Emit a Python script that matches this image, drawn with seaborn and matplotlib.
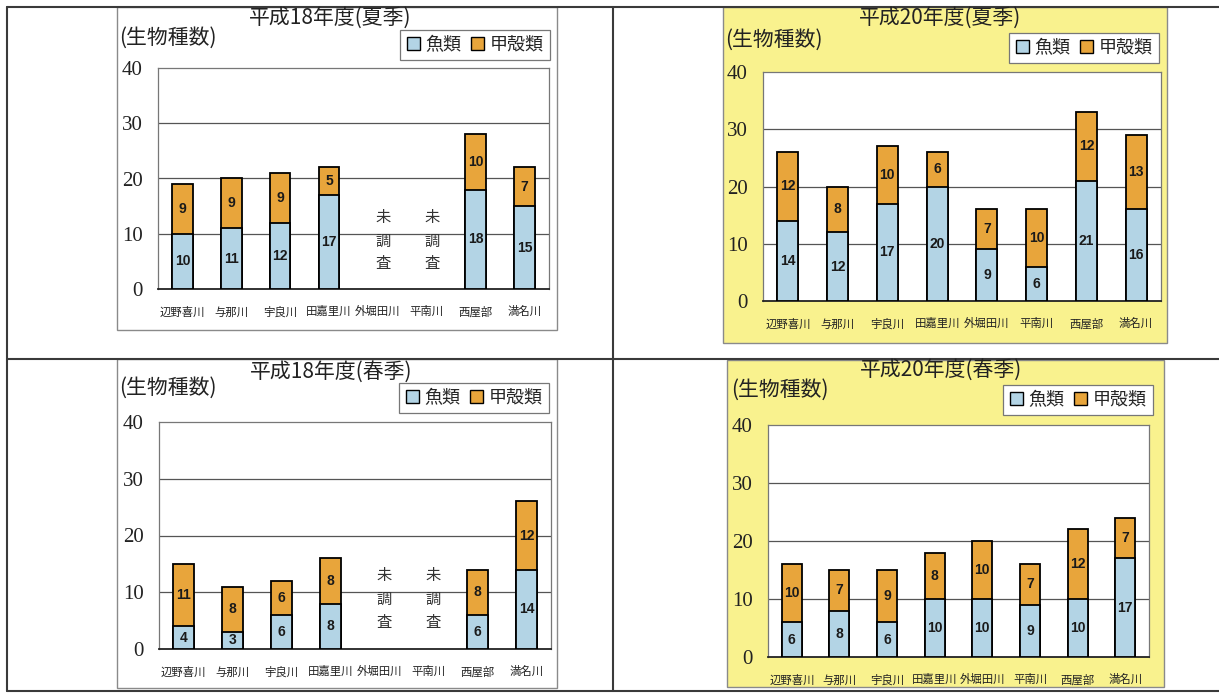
import numpy as np
import pandas as pd
import seaborn as sns
import matplotlib.pyplot as plt
from matplotlib.patches import Rectangle, Patch

# river names (x axis categories)
rivers = ['辺野喜川', '与那川', '宇良川', '田嘉里川', '外堀田川', '平南川', '西屋部', '満名川']

# species counts, None = not surveyed (未調査)
h18_summer_fish = [10, 11, 12, 17, None, None, 18, 15]
h18_summer_crust = [9, 9, 9, 5, None, None, 10, 7]
h20_summer_fish = [14, 12, 17, 20, 9, 6, 21, 16]
h20_summer_crust = [12, 8, 10, 6, 7, 10, 12, 13]
h18_spring_fish = [4, 3, 6, 8, None, None, 6, 14]
h18_spring_crust = [11, 8, 6, 8, None, None, 8, 12]
h20_spring_fish = [6, 8, 6, 10, 10, 9, 10, 17]
h20_spring_crust = [10, 7, 9, 8, 10, 7, 12, 7]

titles = ['平成18年度(夏季)', '平成20年度(夏季)', '平成18年度(春季)', '平成20年度(春季)']
series_names = ['魚類', '甲殻類']
y_ticks = [0, 10, 20, 30, 40]

BLUE = '#b3d4e5'
ORANGE = '#e8a53b'
YELLOW = '#f9f28e'
W, H = 1219, 695

sns.set_theme(style='white')
plt.rcParams['font.family'] = ['Noto Sans CJK JP', 'DejaVu Sans']

fig = plt.figure(figsize=(W / 100, H / 100), dpi=100)
fig.patch.set_facecolor('white')

# background layer in pixel coordinates
bg = fig.add_axes([0, 0, 1, 1])
bg.set_xlim(0, W)
bg.set_ylim(H, 0)
bg.axis('off')


def px_axes(x0, y0, x1, y1):
    return fig.add_axes([x0 / W, 1 - y1 / H, (x1 - x0) / W, (y1 - y0) / H])


# panel layout: chart box, plot area, title centre, y-label pos, legend centre
panels = [
    dict(box=(117, 7, 557, 330), face='white', plot=(158, 68, 549, 289),
         title=(330, 18), ylab=(119, 38), leg=(475, 45),
         fish=h18_summer_fish, crust=h18_summer_crust),
    dict(box=(723, 7, 1167, 343), face=YELLOW, plot=(763, 72, 1161, 301),
         title=(940, 18), ylab=(725, 40), leg=(1084, 48),
         fish=h20_summer_fish, crust=h20_summer_crust),
    dict(box=(117, 359, 557, 688), face='white', plot=(159, 422, 551, 649),
         title=(331, 372), ylab=(119, 388), leg=(474, 398),
         fish=h18_spring_fish, crust=h18_spring_crust),
    dict(box=(727, 360, 1164, 687), face=YELLOW, plot=(768, 425, 1149, 657),
         title=(941, 370), ylab=(731, 390), leg=(1078, 400),
         fish=h20_spring_fish, crust=h20_spring_crust),
]

for p in panels:
    x0, y0, x1, y1 = p['box']
    bg.add_patch(Rectangle((x0, y0), x1 - x0, y1 - y0, facecolor=p['face'],
                           edgecolor='#8a8a8a', linewidth=1.0))

# table ruling
line_kw = dict(color='#3a3a3a', linewidth=1.5)
bg.plot([7, W], [7, 7], **line_kw)
bg.plot([7, 7], [7, 691], **line_kw)
bg.plot([613, 613], [7, 691], **line_kw)
bg.plot([7, W], [359, 359], **line_kw)
bg.plot([7, W], [691, 691], **line_kw)

for i, p in enumerate(panels):
    bg.text(*p['title'], titles[i], ha='center', va='center', fontsize=15,
            color='#222222')
    bg.text(*p['ylab'], '(生物種数)', ha='left', va='center', fontsize=15,
            color='#222222')

    ax = px_axes(*p['plot'])
    df = pd.DataFrame({
        'river': rivers,
        'fish': np.array(p['fish'], dtype=float),
        'crust': np.array(p['crust'], dtype=float),
    })
    df['total'] = df['fish'] + df['crust']

    sns.barplot(data=df, x='river', y='total', order=rivers, color=ORANGE,
                saturation=1, edgecolor='black', linewidth=1.3, width=0.42,
                errorbar=None, ax=ax, zorder=3)
    sns.barplot(data=df, x='river', y='fish', order=rivers, color=BLUE,
                saturation=1, edgecolor='black', linewidth=1.3, width=0.42,
                errorbar=None, ax=ax, zorder=4)

    lab_kw = dict(ha='center', va='center', fontsize=10, fontweight='bold',
                  family=['Liberation Sans', 'DejaVu Sans'], color='#1a1a1a',
                  zorder=5)
    for j, row in df.iterrows():
        if np.isnan(row['fish']):
            for ch, yy in zip('未調査', [12.9, 8.7, 4.6]):
                ax.text(j + 0.1, yy, ch, ha='center', va='center',
                        fontsize=11, color='#333333')
            continue
        ax.text(j, row['fish'] / 2, f"{int(row['fish'])}", **lab_kw)
        ax.text(j, row['fish'] + row['crust'] / 2, f"{int(row['crust'])}",
                **lab_kw)

    ax.set_ylim(0, 40)
    ax.set_xlim(-0.5, len(rivers) - 0.5)
    ax.set_yticks(y_ticks)
    ax.set_yticklabels([str(t) for t in y_ticks],
                       family=['Liberation Serif', 'DejaVu Serif'], fontsize=15)
    ax.set_xticklabels(rivers, fontsize=8.2)
    for t in ax.get_xticklabels():
        t.set_verticalalignment('baseline')
    ax.set_xlabel('')
    ax.set_ylabel('')
    ax.tick_params(axis='y', length=0, pad=11, colors='#222222')
    ax.tick_params(axis='x', length=0, pad=19, colors='#222222')
    ax.set_xticks(np.arange(len(rivers) + 1) - 0.5, minor=True)
    ax.tick_params(axis='x', which='minor', direction='in', length=3,
                   width=0.8, color='#555555')
    ax.set_facecolor('white')
    ax.grid(False)
    for t in [10, 20, 30]:
        ax.axhline(t, color='#555555', linewidth=0.9, zorder=1)
    for side in ['top', 'left', 'right']:
        ax.spines[side].set_color('#777777')
        ax.spines[side].set_linewidth(0.9)
    ax.spines['bottom'].set_color('#222222')
    ax.spines['bottom'].set_linewidth(1.3)

    handles = [Patch(facecolor=BLUE, edgecolor='black', linewidth=1.0),
               Patch(facecolor=ORANGE, edgecolor='black', linewidth=1.0)]
    leg = ax.legend(handles, series_names, loc='center',
                    bbox_to_anchor=(p['leg'][0] / W, 1 - p['leg'][1] / H),
                    bbox_transform=fig.transFigure, ncol=2, fontsize=13,
                    handlelength=0.75, handleheight=0.75, handletextpad=0.3,
                    columnspacing=0.5, borderpad=0.35, fancybox=False,
                    framealpha=1, facecolor='white', edgecolor='#777777')
    leg.get_frame().set_linewidth(0.9)

fig.savefig('out.png', dpi=100)
